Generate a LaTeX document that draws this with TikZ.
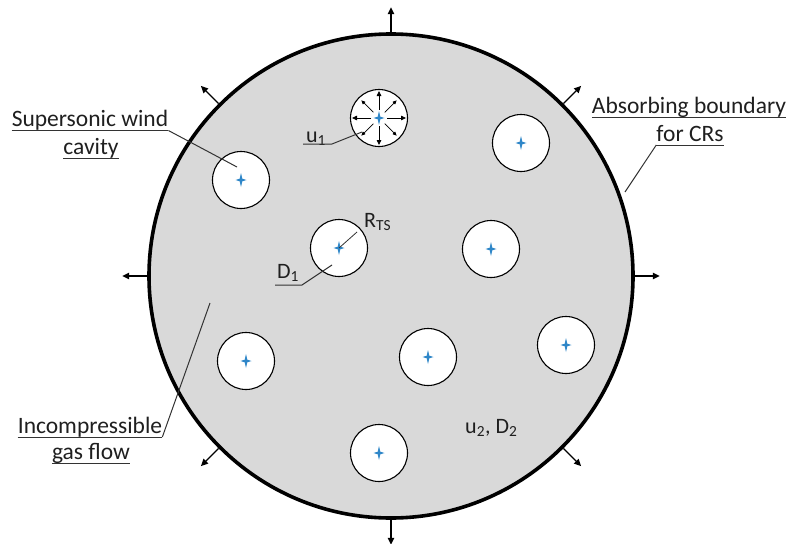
\documentclass[tikz,border=0pt]{standalone}
\usepackage{fontspec}
\setmainfont{Carlito}
\usetikzlibrary{arrows.meta}
\definecolor{starblue}{RGB}{46,134,200}
\definecolor{bgray}{RGB}{217,217,217}
\begin{document}
\begin{tikzpicture}[x=1pt,y=-1pt,
  bound/.style={circle,draw=black,line width=3.6pt,fill=bgray,minimum size=484pt,inner sep=0pt},
  cav/.style={circle,draw=black,line width=1.1pt,fill=white,minimum size=57pt,inner sep=0pt},
  lbl/.style={font=\fontsize{23.5}{28}\selectfont,text=black!88,inner sep=0pt,anchor=base},
  sym/.style={font=\fontsize{22}{26}\selectfont,text=black!88,inner sep=0pt,anchor=base},
  lead/.style={line width=1pt,black!80},
  outarr/.style={line width=1.3pt,-{Triangle[length=7pt,width=6.5pt]}},
  inarr/.style={line width=0.8pt,-{Triangle[length=5pt,width=4.5pt]}},
  inarrd/.style={line width=0.7pt,-{Triangle[length=4pt,width=3.5pt]}},
  tstar/.pic={\fill[starblue] (0,7)--(1.3,1.3)--(5.5,0)--(1.3,-1.3)--(0,-7)--(-1.3,-1.3)--(-5.5,0)--(-1.3,1.3)--cycle;}
]
\useasboundingbox (0,0) rectangle (789,543);

% boundary
\node[bound] (B) at (391,276) {};
\foreach \a in {0,45,...,315}
  \draw[outarr] (B.\a) -- ++(\a:25pt);

% cavities
\node[cav] (c0) at (379,118) {};
\node[cav] (c1) at (241,180) {};
\node[cav] (c2) at (521,143) {};
\node[cav] (c3) at (339,248) {};
\node[cav] (c4) at (491,249) {};
\node[cav] (c5) at (246,361) {};
\node[cav] (c6) at (428,357) {};
\node[cav] (c7) at (566,345) {};
\node[cav] (c8) at (379,453) {};

% wind arrows in c0
\foreach \a in {0,90,180,270}
  \draw[inarr] (c0.center) ++(\a:8pt) -- ++(\a:19pt);
\foreach \a in {45,135,225,315}
  \draw[inarrd] (c0.center) ++(\a:8pt) -- ++(\a:17pt);

% stars
\foreach \c in {c0,c1,c2,c3,c4,c5,c6,c7,c8}
  \pic at (\c.center) {tstar};

% Supersonic wind cavity
\node[lbl] (t1) at (90,126) {Supersonic wind};
\node[lbl] (t2) at (91,154) {cavity};
\draw[lead] ([yshift=-4.5pt]t1.base west) -- ([yshift=-4.5pt]t1.base east) coordinate (t1e);
\draw[lead] ([yshift=-4pt]t2.base west) -- ([yshift=-4pt]t2.base east);
\coordinate (p1) at (237,167);
\draw[lead] (t1e) -- (p1);

% Absorbing boundary
\node[lbl] (a1) at (689,113) {Absorbing boundary};
\node[lbl] (a2) at (690,141) {for CRs};
\draw[lead] ([yshift=-4.5pt]a1.base west) -- ([yshift=-4.5pt]a1.base east);
\draw[lead] ([yshift=-4pt]a2.base east) -- ([yshift=-4pt]a2.base west) coordinate (a2w);
\coordinate (p2) at (625,192);
\draw[lead] (a2w) -- (p2);

% Incompressible gas flow
\node[lbl] (g1) at (90,433) {Incompressible};
\node[lbl] (g2) at (91,459) {gas flow};
\draw[lead] ([yshift=-4pt]g1.base west) -- ([yshift=-4pt]g1.base east) coordinate (g1e);
\draw[lead] ([yshift=-4pt]g2.base west) -- ([yshift=-4pt]g2.base east);
\coordinate (p3) at (210,303);
\draw[lead] (g1e) -- (p3);

% u1
\node[sym] (u1) at (316,142) {u\textsubscript{1}};
\coordinate (u1a) at (303,144);
\coordinate (u1b) at (332,144);
\coordinate (u1c) at (362,132);
\draw[lead] (u1a) -- (u1b) -- (u1c);

% R_TS
\node[sym,anchor=base west] (rts) at (364,227) {R\textsubscript{TS}};
\coordinate (r1) at (357,232);
\draw[lead,line width=0.8pt] (c3.center) -- (r1);

% D1
\node[sym] (d1) at (288,278) {D\textsubscript{1}};
\coordinate (d1a) at (275,285);
\coordinate (d1b) at (302,285);
\coordinate (d1c) at (332,265);
\draw[lead] (d1a) -- (d1b) -- (d1c);

% u2, D2
\node[sym,anchor=base west] (ud) at (465,433) {u\textsubscript{2}, D\textsubscript{2}};
\end{tikzpicture}
\end{document}
